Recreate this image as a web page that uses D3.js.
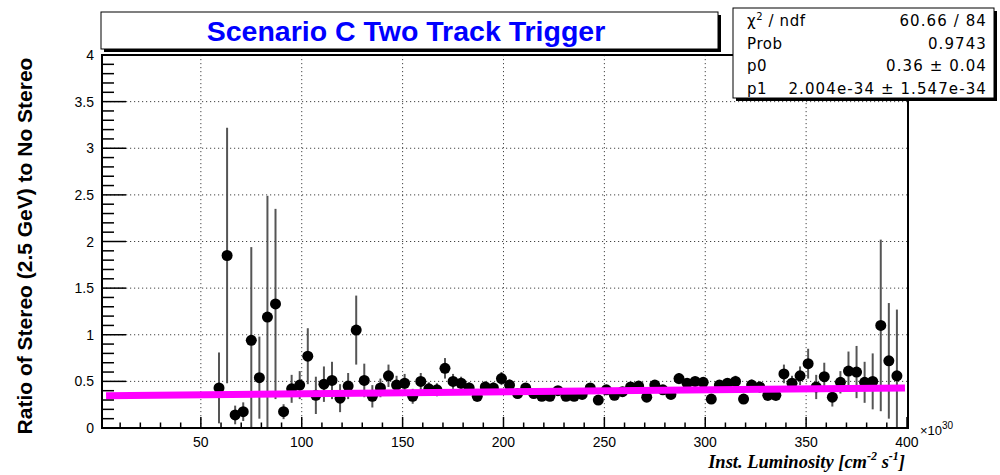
<!DOCTYPE html>
<html><head><meta charset="utf-8">
<script src="https://cdn.jsdelivr.net/npm/d3@7/dist/d3.min.js"></script>
<style>body{margin:0;background:#fff}svg{display:block}</style>
</head><body><svg id="c" width="1000" height="475"></svg>
<script>
// ---- data ----
const lumi = [59,63,67,71,75,79,83,87,91,95,99,103,107,111,115,119,123,127,131,135,139,143,147,151,155,159,163,167,171,175,179,183,187,191,195,199,203,207,211,215,219,223,227,231,235,239,243,247,251,255,259,263,267,271,275,279,283,287,291,295,299,303,307,311,315,319,323,327,331,335,339,343,347,351,355,359,363,367,371,375,379,383,387,391,395];
const ratio = [0.43,1.85,0.14,0.175,0.94,0.54,1.19,1.33,0.175,0.42,0.46,0.77,0.35,0.47,0.51,0.32,0.45,1.05,0.51,0.34,0.43,0.56,0.46,0.48,0.34,0.50,0.42,0.41,0.64,0.50,0.48,0.43,0.34,0.44,0.43,0.53,0.46,0.37,0.43,0.37,0.34,0.34,0.40,0.34,0.34,0.36,0.43,0.30,0.41,0.35,0.39,0.44,0.45,0.33,0.46,0.41,0.36,0.53,0.48,0.50,0.49,0.31,0.46,0.48,0.50,0.31,0.46,0.44,0.35,0.35,0.58,0.48,0.56,0.69,0.44,0.55,0.33,0.49,0.61,0.60,0.49,0.50,1.10,0.72,0.56];
const ratioErr = [0.38,1.37,0.10,0.10,1.00,0.44,1.30,1.02,0.08,0.15,0.15,0.30,0.20,0.19,0.20,0.15,0.14,0.37,0.18,0.12,0.10,0.12,0.10,0.10,0.08,0.09,0.07,0.07,0.11,0.08,0.07,0.06,0.06,0.06,0.06,0.07,0.06,0.05,0.05,0.05,0.05,0.05,0.05,0.05,0.05,0.05,0.05,0.05,0.05,0.05,0.05,0.05,0.05,0.05,0.05,0.05,0.05,0.06,0.05,0.05,0.05,0.05,0.05,0.05,0.06,0.05,0.06,0.06,0.06,0.06,0.10,0.08,0.10,0.16,0.13,0.15,0.10,0.12,0.21,0.28,0.22,0.30,0.92,0.62,0.71];
const fitX = [3, 399];
const fitY = [0.345, 0.43];
const xTickLabels = [50,100,150,200,250,300,350,400];
const yTickLabels = [0,0.5,1,1.5,2,2.5,3,3.5,4];
const titleText = "Scenario C Two Track Trigger";
const statNames = ["χ² / ndf","Prob","p0","p1"];
const statValues = ["60.66 / 84","0.9743","0.36 ± 0.04","2.004e-34 ± 1.547e-34"];

// ---- layout ----
const svg = d3.select("#c");
const L = 102, R = 908, T = 55, B = 428;
const x = d3.scaleLinear().domain([1, 400.5]).range([L, R]);
const y = d3.scaleLinear().domain([0, 4]).range([B, T]);
const font = "'Liberation Sans', Arial, Helvetica, sans-serif";
const sfont = "'DejaVu Sans', Verdana, sans-serif";

svg.append("defs").append("clipPath").attr("id","clip")
  .append("rect").attr("x",L).attr("y",T).attr("width",R-L).attr("height",B-T);

// grid
const grid = svg.append("g").attr("stroke","#444").attr("stroke-width",1).attr("stroke-dasharray","1.2,2.8");
xTickLabels.filter(v => v < 400).forEach(v => {
  grid.append("line").attr("x1",x(v)).attr("x2",x(v)).attr("y1",T).attr("y2",B);
});
yTickLabels.filter(v => v > 0 && v < 4).forEach(v => {
  grid.append("line").attr("x1",L).attr("x2",R).attr("y1",y(v)).attr("y2",y(v));
});

// data
const pts = lumi.map((l,i) => ({l, r: ratio[i], e: ratioErr[i]}));
const dg = svg.append("g").attr("clip-path","url(#clip)");
dg.selectAll("line.err").data(pts).enter().append("line")
  .attr("x1",d=>x(d.l)).attr("x2",d=>x(d.l))
  .attr("y1",d=>y(d.r+d.e)).attr("y2",d=>y(Math.max(d.r-d.e,-0.05)))
  .attr("stroke","#555").attr("stroke-width",2);
dg.selectAll("circle").data(pts).enter().append("circle")
  .attr("cx",d=>x(d.l)).attr("cy",d=>y(d.r)).attr("r",5.5).attr("fill","#000");

// fit
svg.append("line").attr("x1",x(fitX[0])).attr("x2",x(fitX[1]))
  .attr("y1",y(fitY[0])).attr("y2",y(fitY[1]))
  .attr("stroke","#ff00ff").attr("stroke-width",7);

// frame
svg.append("rect").attr("x",L).attr("y",T).attr("width",R-L).attr("height",B-T)
  .attr("fill","none").attr("stroke","#000").attr("stroke-width",2);

// x ticks
const ax = svg.append("g").attr("stroke","#000").attr("stroke-width",1.5);
d3.range(10, 401, 10).forEach(v => {
  const major = v % 50 === 0;
  ax.append("line").attr("x1",x(v)).attr("x2",x(v)).attr("y1",B).attr("y2",B-(major?11:5.5));
});
// y ticks
d3.range(0, 41, 1).forEach(k => {
  const v = k/10, major = k % 5 === 0;
  ax.append("line").attr("x1",L).attr("x2",L+(major?24:12)).attr("y1",y(v)).attr("y2",y(v));
});

// tick labels
svg.append("g").selectAll("text").data(xTickLabels).enter().append("text")
  .attr("x",d=>x(d)).attr("y",B+19).attr("text-anchor","middle")
  .attr("font-family",font).attr("font-size",14).text(d=>d);
svg.append("g").selectAll("text").data(yTickLabels).enter().append("text")
  .attr("x",L-8).attr("y",d=>y(d)+5).attr("text-anchor","end")
  .attr("font-family",font).attr("font-size",14).text(d=>d);

// x10^30
const ex = svg.append("text").attr("x",R+12).attr("y",B+7).attr("font-family",font).attr("font-size",13);
ex.append("tspan").text("×10");
ex.append("tspan").attr("dy",-6).attr("font-size",10).text("30");

// axis titles
const xt = svg.append("text").attr("x",905).attr("y",468).attr("text-anchor","end")
  .attr("font-family","'Liberation Serif', 'Times New Roman', serif").attr("font-weight","bold")
  .attr("font-style","italic").attr("font-size",18.5);
xt.append("tspan").text("Inst. Luminosity [cm");
xt.append("tspan").attr("dy",-8).attr("font-size",12).text("-2");
xt.append("tspan").attr("dy",8).text(" s");
xt.append("tspan").attr("dy",-8).attr("font-size",12).text("-1");
xt.append("tspan").attr("dy",8).text("]");

svg.append("text").attr("transform","translate(32,246) rotate(-90)")
  .attr("text-anchor","middle").attr("font-family",font).attr("font-weight","bold")
  .attr("font-size",21).text("Ratio of Stereo (2.5 GeV) to No Stereo");

// title box
svg.append("rect").attr("x",104).attr("y",15).attr("width",617).attr("height",37).attr("fill","#000");
svg.append("rect").attr("x",101).attr("y",12).attr("width",617).attr("height",37)
  .attr("fill","#fff").attr("stroke","#000").attr("stroke-width",1);
svg.append("text").attr("x",406).attr("y",40.5).attr("text-anchor","middle")
  .attr("font-family",font).attr("font-weight","bold").attr("font-size",28.5)
  .attr("fill","#0000ff").text(titleText);

// stats box
const sx = 733, sy = 8, sw = 261, sh = 90;
svg.append("rect").attr("x",sx+3).attr("y",sy+3).attr("width",sw).attr("height",sh).attr("fill","#000");
svg.append("rect").attr("x",sx).attr("y",sy).attr("width",sw).attr("height",sh)
  .attr("fill","#fff").attr("stroke","#000").attr("stroke-width",1);
const rowH = sh/4;
statNames.forEach((n,i) => {
  const by = sy + rowH*i + rowH*0.8;
  const t = svg.append("text").attr("x",sx+14).attr("y",by).attr("font-family",sfont)
    .attr("font-size",15).attr("letter-spacing",0.6);
  if (i === 0) {
    t.append("tspan").text("χ");
    t.append("tspan").attr("dy",-6).attr("font-size",10).text("2");
    t.append("tspan").attr("dy",6).text(" / ndf");
  } else t.text(n);
  svg.append("text").attr("x",sx+sw-7).attr("y",by).attr("text-anchor","end")
    .attr("font-family",sfont).attr("font-size",15).attr("letter-spacing",1.1).text(statValues[i]);
});
</script></body></html>
